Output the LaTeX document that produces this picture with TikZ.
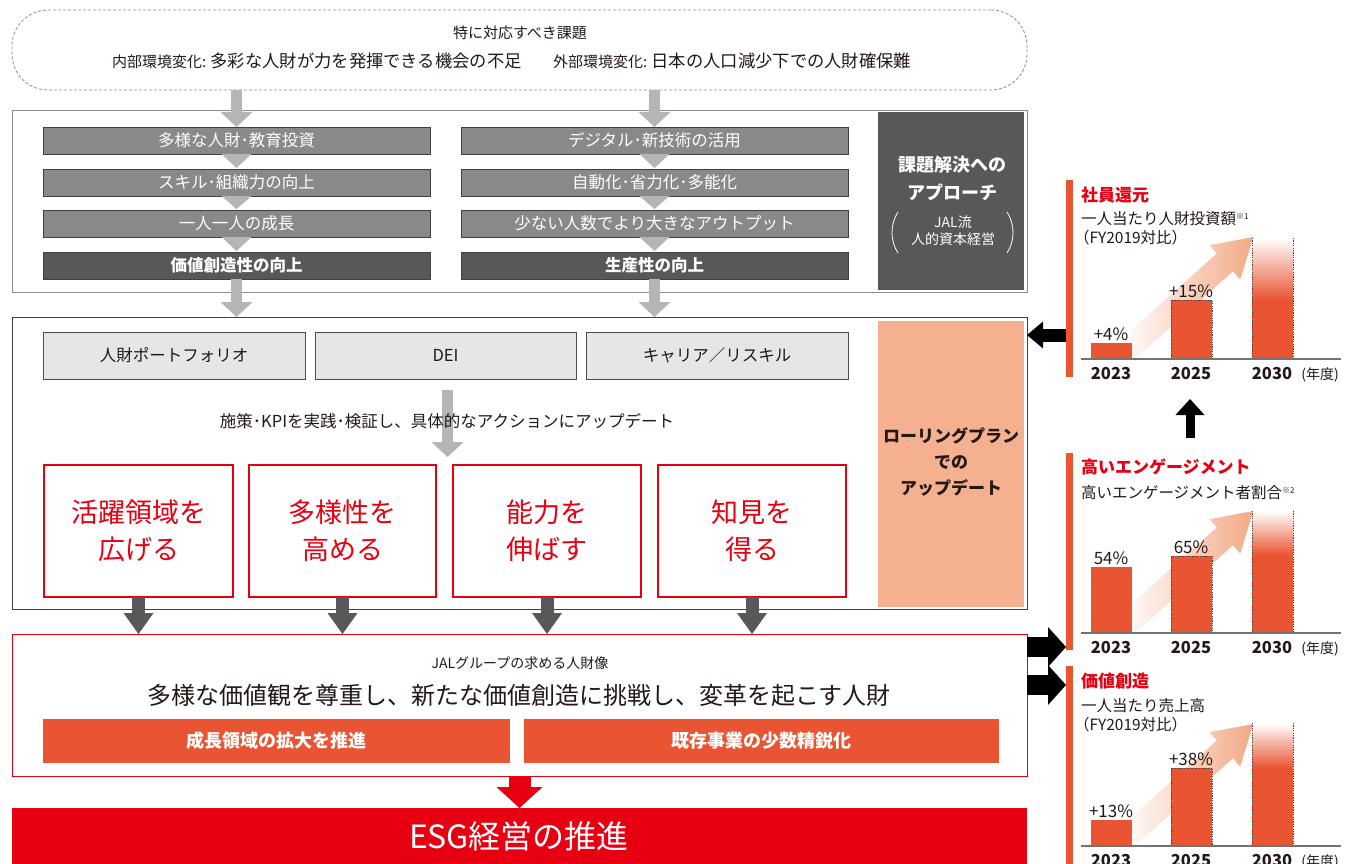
\documentclass[tikz,border=0pt]{standalone}
\usepackage{fontspec}
\setmainfont{Noto Sans CJK JP}
\usetikzlibrary{arrows.meta,calc}
\definecolor{jalred}{HTML}{E60012}
\definecolor{jorange}{HTML}{E95532}
\definecolor{peach}{HTML}{F4B08F}
\definecolor{arrowpeach}{HTML}{F3A985}
\definecolor{midgray}{HTML}{898989}
\definecolor{darkgray2}{HTML}{595757}
\definecolor{lightgray2}{HTML}{B5B5B5}
\definecolor{boxgray}{HTML}{E6E6E6}
\definecolor{txt}{HTML}{231815}
\newcommand\fsz[1]{\fontsize{#1}{#1}\selectfont}
% #1 baseline, #2 top2023, #3 top2025, #4 top2030, #5 solid start 2030, #6 year baseline
\newcommand\chartbars[6]{%
  \fill[jorange] (1091,#2) rectangle (1132,#1);
  \fill[jorange] (1171,#3) rectangle (1212,#1);
  \draw[dotline] (1171,#1) -- (1171,#3) -- (1212,#3) -- (1212,#1);
  \shade[top color=white, bottom color=jorange] (1252,#4) rectangle (1293,#5);
  \fill[jorange] (1252,#5) rectangle (1293,#1);
  \draw[dotline] (1252,#4) -- (1252,#1);
  \draw[dotline] (1293,#4) -- (1293,#1);
  \draw[axisline] (1081,#1) -- (1341,#1);
  \node[yearlab] at (1111,#6) {2023};
  \node[yearlab] at (1191,#6) {2025};
  \node[yearlab] at (1272,#6) {2030};
  \node[anchor=base, font=\fsz{14}] at (1320,#6) {(年度)};
}
\newcommand\gradarrow[2]{%
  \begin{scope}[shift={(#1,#2)}, rotate=41.8]
    \shade[left color=white, right color=arrowpeach]
      (0,-12) -- (130,-12) -- (130,-23) -- (168,0) -- (130,23) -- (130,12) -- (0,12) -- cycle;
  \end{scope}
}
\begin{document}
\begin{tikzpicture}[x=1pt,y=-1pt,
  every node/.style={inner sep=0pt,outer sep=0pt,text=txt},
  colbox/.style={draw=black!75, line width=0.7pt, fill=midgray, minimum width=387pt, minimum height=27pt, anchor=north west, text=white, font=\fsz{16.5}},
  colboxdark/.style={colbox, fill=darkgray2, font=\fsz{16.5}\bfseries},
  graybox/.style={draw=black!70, line width=0.8pt, fill=boxgray, minimum height=47pt, anchor=north west, font=\fsz{16.5}},
  redbox/.style={draw=jalred, line width=1.6pt, fill=white, minimum height=132pt, anchor=north west, text=jalred, font=\fontsize{27}{37}\selectfont, align=center},
  obox/.style={fill=jorange, minimum height=44pt, anchor=north west, text=white, font=\fsz{18}\bfseries},
  grayarr/.style={draw=lightgray2, line width=11pt, -{Triangle[width=32pt,length=15pt,line width=0pt]}},
  darkarr/.style={draw=darkgray2, line width=13pt, -{Triangle[width=30pt,length=21pt,line width=0pt]}},
  redarr/.style={draw=jalred, line width=22pt, -{Triangle[width=46pt,length=21pt,line width=0pt]}},
  blackarr/.style={draw=black, line width=13pt, -{Triangle[width=27pt,length=16pt,line width=0pt]}},
  bigblackarr/.style={draw=black, line width=20pt, -{Triangle[width=40pt,length=18pt,line width=0pt]}},
  upblackarr/.style={draw=black, line width=9pt, -{Triangle[width=29pt,length=16pt,line width=0pt]}},
  dotline/.style={draw=black!75, line width=0.7pt, dash pattern=on 1.2pt off 1.2pt},
  axisline/.style={draw=black!55, line width=1.3pt},
  yearlab/.style={anchor=base, font=\fsz{16.5}\bfseries},
  pct/.style={anchor=base, font=\fsz{17}},
  ctitle/.style={anchor=west, text=jalred, font=\fsz{17}\bfseries},
  csub/.style={anchor=west, font=\fsz{15.5}}
]
\useasboundingbox (0,0) rectangle (1357,864);
\fill[white] (0,0) rectangle (1357,864);

% ---------- top box ----------
\node[draw=black!45, line width=0.8pt, dash pattern=on 3pt off 2pt, rounded corners=36pt,
      minimum width=1015pt, minimum height=80pt, anchor=north west] (topbox) at (12,10) {};
\node[font=\fsz{15}] (ttl) at (520,33) {特に対応すべき課題};
\node[anchor=base west] (inl) at (112,68) {{\fsz{15}内部環境変化: }{\fsz{17.3}多彩な人財が力を発揮できる機会の不足}};
\node[anchor=base west] (exl) at (553,68) {{\fsz{15}外部環境変化: }{\fsz{17.3}日本の人口減少下での人財確保難}};

% ---------- box 2 ----------
\node[draw=black!45, line width=0.8pt, minimum width=1015pt, minimum height=182pt, anchor=north west] (box2) at (12,110) {};
\node[colbox] (l1) at (43,127) {多様な人財･教育投資};
\node[colbox] (l2) at (43,169) {スキル･組織力の向上};
\node[colbox] (l3) at (43,210) {一人一人の成長};
\node[colboxdark] (l4) at (43,252) {価値創造性の向上};
\node[colbox] (r1) at (461,127) {デジタル･新技術の活用};
\node[colbox] (r2) at (461,169) {自動化･省力化･多能化};
\node[colbox] (r3) at (461,210) {少ない人数でより大きなアウトプット};
\node[colboxdark] (r4) at (461,252) {生産性の向上};
\node[fill=darkgray2, minimum width=146pt, minimum height=178pt, anchor=north west] (approach) at (878,112) {};
\node[text=white, font=\fsz{18}\bfseries] (ap1) at (952,165) {課題解決への};
\node[text=white, font=\fsz{18}\bfseries] (ap2) at (952,192) {アプローチ};
\node[text=white, font=\fsz{14}] (ap3) at (953,222) {JAL流};
\node[text=white, font=\fsz{14}] (ap4) at (953,239) {人的資本経営};
\draw[white, line width=0.8pt] (898,212) .. controls (890,224) and (890,241) .. (898,253);
\draw[white, line width=0.8pt] (1007,212) .. controls (1015,224) and (1015,241) .. (1007,253);

% arrows in box 2
\draw[grayarr] (topbox.south -| l1.north) -- (l1.north);
\draw[grayarr] (topbox.south -| r1.north) -- (r1.north);
\foreach \a/\b in {l1/l2,l2/l3,l3/l4,r1/r2,r2/r3,r3/r4}{
  \fill[lightgray2] ($(\a.south)+(-15,0)$) -- ($(\a.south)+(15,0)$) -- ($(\b.north)+(0,-1)$) -- cycle;
}

% ---------- box 3 ----------
\node[draw=black!75, line width=0.9pt, minimum width=1015pt, minimum height=292pt, anchor=north west] (box3) at (12,317) {};
\draw[grayarr] (l4.south) -- (l4.south |- box3.north);
\draw[grayarr] (r4.south) -- (r4.south |- box3.north);
\node[fill=peach, minimum width=146pt, minimum height=286pt, anchor=north west] (rolling) at (878,321) {};
\node[font=\fontsize{17}{26}\selectfont\bfseries, align=center] (rolltxt) at (951,462) {ローリングプラン\\での\\アップデート};
\node[graybox, minimum width=262pt] (g1) at (43,332) {人財ポートフォリオ};
\node[graybox, minimum width=261pt] (g2) at (315,332) {DEI};
\node[graybox, minimum width=262pt] (g3) at (586,332) {キャリア／リスキル};
\node[redbox, minimum width=189pt] (rb1) at (44,465) {活躍領域を\\広げる};
\node[redbox, minimum width=187pt] (rb2) at (249,465) {多様性を\\高める};
\node[redbox, minimum width=188pt] (rb3) at (453,465) {能力を\\伸ばす};
\node[redbox, minimum width=188pt] (rb4) at (658,465) {知見を\\得る};
\draw[grayarr] ($(g2.south)+(2,11)$) -- ($(g2.south |- rb2.north)+(2,-8)$);
\node[font=\fsz{16.5}] (kpi) at (447,421) {施策･KPIを実践･検証し、具体的なアクションにアップデート};

% ---------- box 4 ----------
\node[draw=jalred, line width=0.9pt, minimum width=1015pt, minimum height=142pt, anchor=north west] (box4) at (12,634) {};
\foreach \r in {rb1,rb2,rb3,rb4}{
  \draw[darkarr] (\r.south) -- (\r.south |- box4.north);
}
\node[font=\fsz{14}] (jalg) at (520,663) {JALグループの求める人財像};
\node[font=\fsz{24}] (ideal) at (519,695) {多様な価値観を尊重し、新たな価値創造に挑戦し、変革を起こす人財};
\node[obox, minimum width=467pt] (ob1) at (43,719) {成長領域の拡大を推進};
\node[obox, minimum width=475pt] (ob2) at (524,719) {既存事業の少数精鋭化};

% ---------- ESG ----------
\node[fill=jalred, minimum width=1015pt, minimum height=60pt, anchor=north west] (esg) at (12,808) {};
\node[text=white, font=\fsz{32}] (esgtxt) at (519,836) {ESG経営の推進};
\draw[redarr] (box4.south) -- (esg.north);

% ---------- chart 1 ----------
\node[fill=jorange, minimum width=7pt, minimum height=197pt, anchor=north west] (vb1) at (1066,180) {};
\node[ctitle] (c1t) at (1081,195) {社員還元};
\node[csub] (c1s1) at (1081,219) {一人当たり人財投資額\raisebox{5pt}{\fsz{8}※1}};
\node[csub] (c1s2) at (1074,238) {（FY2019対比）};
\gradarrow{1128}{349}
\chartbars{359}{343}{300}{238}{300}{379}
\node[pct] at (1111,340) {+4\%};
\node[pct] at (1191,297) {+15\%};

% ---------- chart 2 ----------
\node[fill=jorange, minimum width=7pt, minimum height=197pt, anchor=north west] (vb2) at (1066,453) {};
\node[ctitle] (c2t) at (1081,467) {高いエンゲージメント};
\node[csub] (c2s1) at (1081,493) {高いエンゲージメント者割合\raisebox{5pt}{\fsz{8}※2}};
\gradarrow{1128}{623}
\chartbars{633}{567}{556}{511}{555}{653}
\node[pct] at (1111,564) {54\%};
\node[pct] at (1191,553) {65\%};

% ---------- chart 3 ----------
\node[fill=jorange, minimum width=7pt, minimum height=198pt, anchor=north west] (vb3) at (1066,666) {};
\node[ctitle] (c3t) at (1081,681) {価値創造};
\node[csub] (c3s1) at (1081,706) {一人当たり売上高};
\node[csub] (c3s2) at (1074,725) {（FY2019対比）};
\gradarrow{1128}{836}
\chartbars{846}{820}{768}{723}{768}{866}
\node[pct] at (1111,817) {+13\%};
\node[pct] at (1191,765) {+38\%};

% ---------- black connectors ----------
\coordinate (yl) at (0,335);
\coordinate (yr1) at (0,647);
\coordinate (yr2) at (0,685);
\draw[blackarr] (vb1.west |- yl) -- (box3.east |- yl);
\draw[bigblackarr] (box4.east |- yr1) -- (vb2.west |- yr1);
\draw[bigblackarr] (box4.east |- yr2) -- (vb3.west |- yr2);
\coordinate (upa) at (1190,438);
\coordinate (upb) at (1190,399);
\draw[upblackarr] (upa) -- (upb);
\end{tikzpicture}
\end{document}
